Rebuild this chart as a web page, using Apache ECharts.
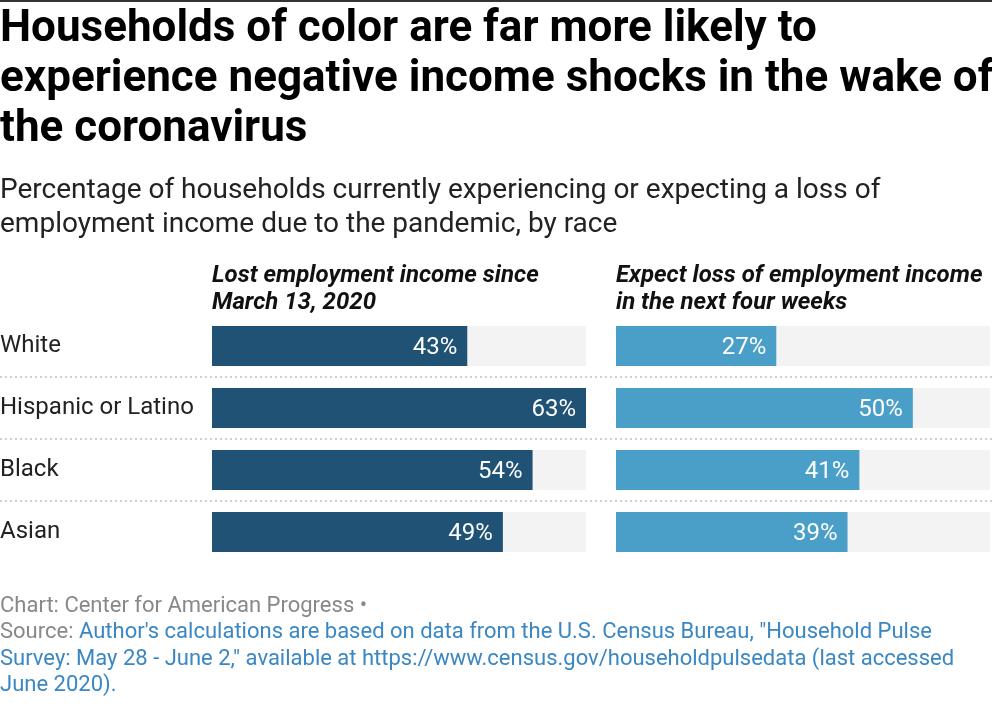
<!DOCTYPE html>
<html>
<head>
<meta charset="utf-8">
<script src="https://cdn.jsdelivr.net/npm/echarts@6/dist/echarts.min.js"></script>
<style>
html,body{margin:0;padding:0;background:#fff;}
#c{width:992px;height:706px;}
</style>
</head>
<body>
<div id="c"></div>
<script>
const categories = ["White", "Hispanic or Latino", "Black", "Asian"];
const lostIncome = [43, 63, 54, 49];
const expectLoss = [27, 50, 41, 39];
const headerLeft = "Lost employment income since\nMarch 13, 2020";
const headerRight = "Expect loss of employment income\nin the next four weeks";
const titleText = "Households of color are far more likely to\nexperience negative income shocks in the wake of\nthe coronavirus";
const subtitleText = "Percentage of households currently experiencing or expecting a loss of\nemployment income due to the pandemic, by race";
const xMax = 63;

const chart = echarts.init(document.getElementById('c'), null, {renderer: 'canvas'});
const FONT = 'Roboto, "Noto Sans", sans-serif';
const GRID_TOP = 315, GRID_H = 248;

function barSeries(idx, data, color) {
  return {
    type: 'bar', xAxisIndex: idx, yAxisIndex: idx, data: data,
    barWidth: 40,
    showBackground: true,
    backgroundStyle: {color: '#f3f3f3'},
    itemStyle: {color: color},
    label: {
      show: true, position: 'insideRight', distance: 10, offset: [0, 2],
      formatter: p => p.value + '%',
      color: '#fff', fontFamily: FONT, fontSize: 24
    },
    silent: true, animation: false
  };
}

const option = {
  backgroundColor: '#fff',
  animation: false,
  title: [
    {text: titleText, left: 0, top: 5, padding: 0,
     textStyle: {fontFamily: FONT, fontSize: 44, fontWeight: 'bold', color: '#000', lineHeight: 50}},
    {text: subtitleText, left: 0, top: 174, padding: 0,
     textStyle: {fontFamily: FONT, fontSize: 28, fontWeight: 'normal', color: '#222', lineHeight: 34}},
    {text: headerLeft, left: 212, top: 262, padding: 0,
     textStyle: {fontFamily: FONT, fontSize: 24, fontWeight: 'bold', fontStyle: 'italic', color: '#111', lineHeight: 27}},
    {text: headerRight, left: 616, top: 262, padding: 0,
     textStyle: {fontFamily: FONT, fontSize: 24, fontWeight: 'bold', fontStyle: 'italic', color: '#111', lineHeight: 27}},
    {text: '{g|Chart: Center for American Progress •}\n{g|Source: }{b|Author\'s calculations are based on data from the U.S. Census Bureau, "Household Pulse}\n{b|Survey: May 28 - June 2," available at https://www.census.gov/householdpulsedata (last accessed}\n{b|June 2020).}',
     left: 0, top: 593, padding: 0,
     textStyle: {fontFamily: FONT, fontSize: 22, fontWeight: 'normal', lineHeight: 26.5,
       rich: {
         g: {color: '#888888', fontFamily: FONT, fontSize: 22, lineHeight: 26.5},
         b: {color: '#3a87c4', fontFamily: FONT, fontSize: 22, lineHeight: 26.5}
       }}}
  ],
  graphic: [
    {type: 'rect', shape: {x: 0, y: 0, width: 992, height: 2}, style: {fill: '#333'}, silent: true}
  ],
  grid: [
    {left: 212, width: 374, top: GRID_TOP, height: GRID_H, containLabel: false, outerBoundsMode: 'none'},
    {left: 616, width: 374, top: GRID_TOP, height: GRID_H, containLabel: false, outerBoundsMode: 'none'},
    {left: 0, width: 992, top: GRID_TOP, height: GRID_H, containLabel: false, outerBoundsMode: 'none'}
  ],
  xAxis: [
    {gridIndex: 0, type: 'value', min: 0, max: xMax, show: false},
    {gridIndex: 1, type: 'value', min: 0, max: xMax, show: false},
    {gridIndex: 2, type: 'value', min: 0, max: 1, show: false}
  ],
  yAxis: [
    {gridIndex: 0, type: 'category', data: categories, inverse: true,
     axisLine: {show: false}, axisTick: {show: false}, splitLine: {show: false},
     axisLabel: {align: 'left', margin: 212, padding: [5, 0, 0, 0], color: '#222', fontFamily: FONT, fontSize: 24}},
    {gridIndex: 1, type: 'category', data: categories, inverse: true,
     axisLine: {show: false}, axisTick: {show: false}, splitLine: {show: false}, axisLabel: {show: false}},
    {gridIndex: 2, type: 'value', min: 0, max: categories.length, interval: 1,
     axisLine: {show: false}, axisTick: {show: false}, axisLabel: {show: false},
     splitLine: {show: true, showMinLine: false, showMaxLine: false,
       lineStyle: {type: [2, 3], color: '#cfcfcf', width: 2}}}
  ],
  series: [
    barSeries(0, lostIncome, '#1f5275'),
    barSeries(1, expectLoss, '#4a9fc8')
  ]
};
chart.setOption(option);
</script>
</body>
</html>
